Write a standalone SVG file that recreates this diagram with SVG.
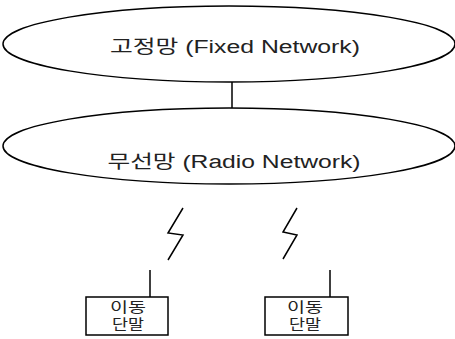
<svg xmlns="http://www.w3.org/2000/svg" width="455" height="339" viewBox="0 0 455 339">
<style>
.sh{fill:none;stroke:#000;stroke-width:1.5}
.t{font-family:"Liberation Sans","Noto Sans CJK KR",sans-serif;fill:#222;text-anchor:middle}
.big{font-size:18px}
.small{font-size:14px}
</style>
<rect width="455" height="339" fill="#fff"/>
<g id="connectors">
<line class="sh" x1="232" y1="82" x2="232" y2="108"/>
<polyline class="sh" points="183,208 168,233 183,235 168,260"/>
<polyline class="sh" points="297,208 283,232 297,235 283,259"/>
<line class="sh" x1="150" y1="270" x2="150" y2="297"/>
<line class="sh" x1="330" y1="270" x2="330" y2="297"/>
</g>
<g id="fixed-network">
<ellipse class="sh" cx="229" cy="44" rx="226" ry="38"/>
<text class="t big" x="235" y="53" textLength="250" lengthAdjust="spacingAndGlyphs">고정망 (Fixed Network)</text>
</g>
<g id="radio-network">
<ellipse class="sh" cx="229" cy="146" rx="226" ry="38"/>
<text class="t big" x="234" y="168" textLength="253" lengthAdjust="spacingAndGlyphs">무선망 (Radio Network)</text>
</g>
<g id="terminal-1">
<rect class="sh" x="86" y="297" width="82" height="38"/>
<text class="t small" x="128" y="312" textLength="36" lengthAdjust="spacingAndGlyphs">이동</text>
<text class="t small" x="128" y="329" textLength="32" lengthAdjust="spacingAndGlyphs">단말</text>
</g>
<g id="terminal-2">
<rect class="sh" x="265" y="297" width="83" height="38"/>
<text class="t small" x="305" y="312" textLength="36" lengthAdjust="spacingAndGlyphs">이동</text>
<text class="t small" x="305" y="329" textLength="32" lengthAdjust="spacingAndGlyphs">단말</text>
</g>
</svg>
